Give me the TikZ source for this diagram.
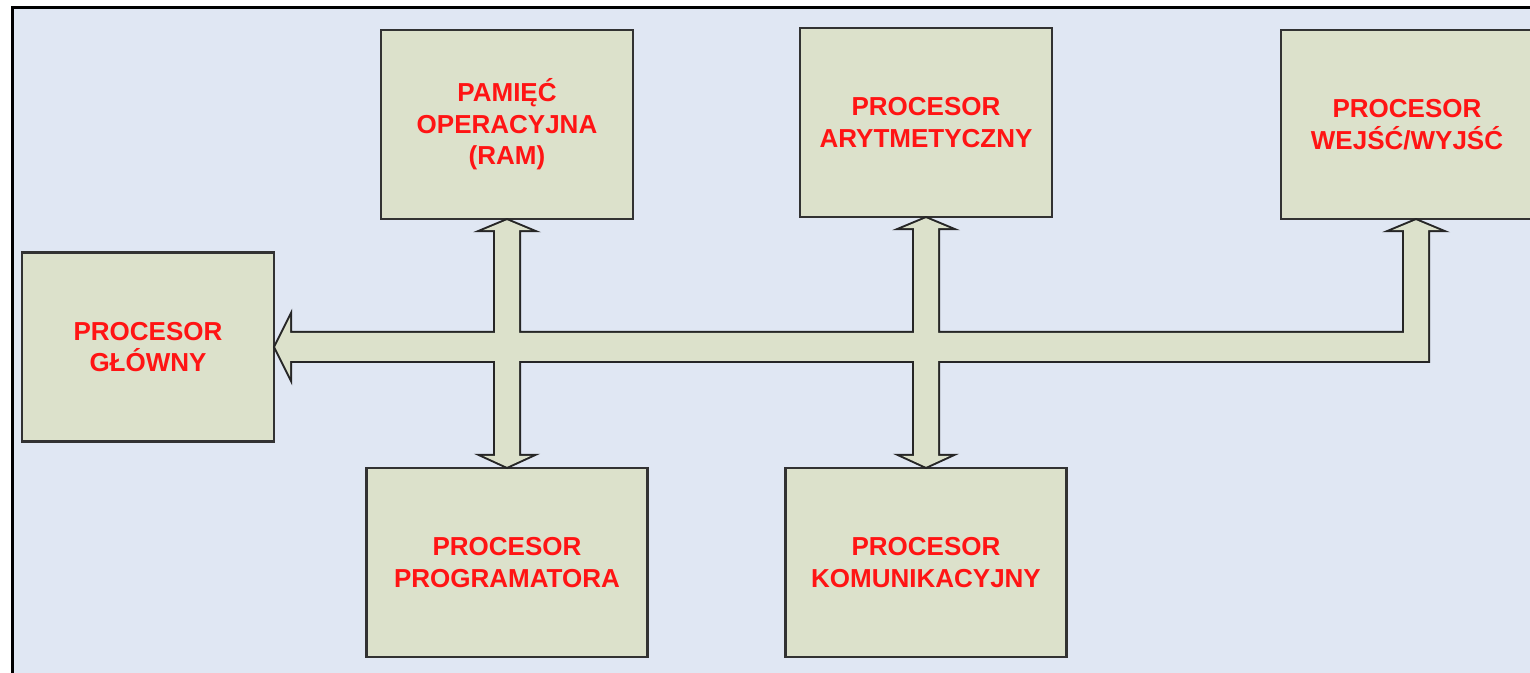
\documentclass[tikz,border=0pt]{standalone}
\usepackage{fontspec}
\setmainfont{Liberation Sans}
\usetikzlibrary{calc}
\definecolor{bg}{RGB}{224,231,243}
\definecolor{boxfill}{RGB}{220,225,203}
\definecolor{boxline}{RGB}{50,50,50}
\definecolor{txt}{RGB}{255,20,20}
\begin{document}
\begin{tikzpicture}[x=0.5pt,y=-0.5pt,
        unit/.style={draw=boxline,line width=1.2pt,fill=boxfill,inner sep=0pt,minimum width=126pt,minimum height=94.5pt,align=center,text=txt,font=\fontsize{13}{15.8}\selectfont\bfseries},
        wide/.style={unit,minimum width=140.5pt},
        bus/.style={fill=boxfill,line join=miter,preaction={draw=black!85,line width=2pt,line join=miter}}]
        \useasboundingbox(0,0)rectangle(1530,673);
        \fill[white](0,0)rectangle(1530,673);
        \fill[bg](12,8)rectangle(1530,673);
        \draw[line width=1.5pt,line join=miter](12,680)--(12,8)--(1540,8);
        \node[unit](1)at(148,347){PROCESOR\\GŁÓWNY};
        \node[unit](2)at(507,124.5){PAMIĘĆ\\OPERACYJNA\\(RAM)};
        \node[unit](3)at(926,122.5){PROCESOR\\ARYTMETYCZNY};
        \node[unit](4)at(1407,124.5){PROCESOR\\WEJŚĆ/WYJŚĆ};
        \node[wide](5)at(507,562.5){PROCESOR\\PROGRAMATORA};
        \node[wide](6)at(926,562.5){PROCESOR\\KOMUNIKACYJNY};
        \coordinate(t)at($(4.south)+(9,0)$);
        \path[bus](1.east)--++(15,-30)--++(0,16)-|($(t)+(-12,10)$)--++(-12,0)--(t)--++(24,10)--++(-12,0)|-($(1.east)+(15,14)$)--++(0,16)--cycle
            (2.south)--++(24,10)--++(-12,0)--($(5.north)+(12,-11)$)--++(12,0)--(5.north)--++(-24,-11)--++(12,0)--($(2.south)+(-12,10)$)--++(-12,0)--cycle
            (3.south)--++(24,10)--++(-12,0)--($(6.north)+(12,-11)$)--++(12,0)--(6.north)--++(-24,-11)--++(12,0)--($(3.south)+(-12,10)$)--++(-12,0)--cycle;
    \end{tikzpicture}
\end{document}
